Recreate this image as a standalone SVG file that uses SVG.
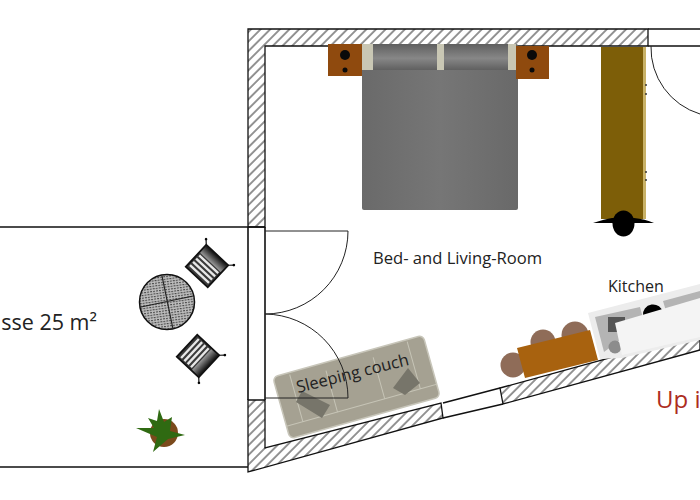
<svg xmlns="http://www.w3.org/2000/svg" width="700" height="500" viewBox="0 0 700 500">
<style>
.ln{fill:none;stroke:#111;stroke-width:1.6}
.thin{fill:none;stroke:#222;stroke-width:1}
.wall{fill:url(#hatch);stroke:#111;stroke-width:1.3}
.lab{font-family:"Open Sans","Noto Sans",sans-serif;fill:#222}
.nst{fill:#8f4a0e}
.cream{fill:#c9c7b4}
.pil{fill:url(#pillow)}
.lk{fill:#0a0a0a}
.seat{fill:#8f6c58}
.couchd{fill:#77756a}
.couchl{fill:none;stroke:#c6c4b6;stroke-width:1}
.leaf{fill:#2f6a12}
.leg{stroke:#111;stroke-width:1.2;fill:none}
</style>
<defs>
<pattern id="hatch" width="6.8" height="6.8" patternUnits="userSpaceOnUse" patternTransform="rotate(45)">
<rect width="6.8" height="6.8" fill="#fff"/><line x1="1" y1="0" x2="1" y2="6.8" stroke="#111" stroke-width="0.9"/>
</pattern>
<pattern id="dots" width="3" height="2.600" patternUnits="userSpaceOnUse" patternTransform="rotate(-8)">
<rect width="3" height="2.600" fill="#bdbdbd"/><rect width="2" height="1.100" fill="#4a4a4a"/>
</pattern>
<linearGradient id="pillow" x1="0" y1="0" x2="0" y2="1"><stop offset="0" stop-color="#5f5f5f"/><stop offset="0.55" stop-color="#878787"/><stop offset="1" stop-color="#606060"/></linearGradient>
<linearGradient id="bedg" x1="0" y1="0" x2="1" y2="0"><stop offset="0" stop-color="#6a6a6a"/><stop offset="0.5" stop-color="#767676"/><stop offset="1" stop-color="#696969"/></linearGradient>
<linearGradient id="back" x1="0" y1="0" x2="1" y2="0"><stop offset="0" stop-color="#999"/><stop offset="1" stop-color="#111"/></linearGradient>
<g id="chair">
<rect x="-15" y="-15" width="30" height="30" fill="#3a3a3a" stroke="#111" stroke-width="1.8"/>
<path d="M-11-13V13M-6.500-13V13M-2-13V13M2.500-13V13" stroke="#e8e8e8" stroke-width="2.400" fill="none"/>
<rect x="5" y="-14" width="9.500" height="28" fill="url(#back)"/>
<path d="M15-15l4-4M15 15l4 4" class="leg"/><circle cx="19" cy="-19" r="1.300"/><circle cx="19" cy="19" r="1.300"/>
</g>
</defs>
<rect width="700" height="500" fill="#fff"/>

<g id="connectors">
<path class="wall" d="M248 29H648V46H265V227H248Z"/>
<path class="wall" d="M248 400H265V448L441 403 443 418 248 472Z"/>
<path class="wall" d="M500 388 700 333V350L503 404Z"/>
<path class="ln" d="M648 29H700M648 46H700"/>
<path class="ln" d="M0 227H265M0 467H248M248 227V400M265 227V400"/>
<path class="ln" d="M443 403 500 388M443 418 503 404"/>
<path class="thin" d="M651 46A69 69 0 0 0 700 114"/>
</g>

<g id="bed">
<rect x="362" y="44" width="156" height="166" rx="2" fill="url(#bedg)"/>
<rect class="pil" x="373" y="44" width="64" height="26"/>
<rect class="pil" x="444" y="44" width="64" height="26"/>
<rect class="cream" x="362" y="44" width="11" height="26"/>
<rect class="cream" x="437" y="44" width="7" height="26"/>
<rect class="cream" x="508" y="44" width="8" height="26"/>
</g>
<g id="nightstand-left">
<rect class="nst" x="328" y="44" width="34" height="32"/>
<circle class="lk" cx="345" cy="55" r="5"/><circle class="lk" cx="345" cy="70" r="2.500"/>
</g>
<g id="nightstand-right">
<rect class="nst" x="516" y="46" width="33" height="33"/>
<circle class="lk" cx="532" cy="55" r="5"/><circle class="lk" cx="532" cy="70" r="2.500"/>
</g>
<g id="wardrobe">
<rect x="601" y="47" width="45" height="172" fill="#7d5e08"/>
<rect x="643" y="47" width="3" height="172" fill="#c9b267"/>
<path d="M646 85v.1M646 94v.1M646 172v.1M646 180v.1" stroke="#333" stroke-width="2" stroke-linecap="round"/>
<path d="M593 223Q605 219 612 218H634Q645 219 654 223Z" fill="#000"/>
<ellipse cx="623.500" cy="223.500" rx="11" ry="13" fill="#000"/>
</g>
<g id="label-room"><text class="lab" x="373" y="264" font-size="16.600">Bed- and Living-Room</text></g>
<g id="label-kitchen"><text class="lab" x="608" y="292" font-size="16">Kitchen</text></g>
<g id="label-terrace"><text class="lab" x="97" y="330" font-size="21.500" text-anchor="end">sse 25 m²</text></g>
<g id="label-up"><text x="656" y="408" font-size="24" font-family="'Open Sans','Noto Sans',sans-serif" fill="#ad2d1e">Up i</text></g>

<g id="table">
<circle cx="167" cy="302" r="27.500" fill="url(#dots)" stroke="#111" stroke-width="1.500"/>
<path d="M162 276 173 329M141 307 193 296" stroke="#222" stroke-width="1.200" fill="none"/>
</g>
<g id="chair-1"><use href="#chair" transform="translate(207 266) rotate(-47)"/></g>
<g id="chair-2"><use href="#chair" transform="translate(198 356) rotate(43)"/></g>
<g id="plant">
<circle cx="164" cy="433" r="14" fill="#7b4a1c"/>
<path class="leaf" d="M159 409 164 422 172 417 170 431 185 435 168 439 153 452 157 437 136 428 154 428 148 418 157 421Z"/>
</g>

<g id="couch">
<g transform="translate(356.500 387) rotate(-15.600)">
<rect x="-78" y="-32" width="156" height="64" rx="5" fill="#a5a192" stroke="#c8c6ba" stroke-width="1.500"/>
<path d="M-61-30V19M61-30V19M-78 19H78" class="couchl" stroke="#8a8778"/>
<path d="M-25-24V19M24-24V19" class="couchl"/>
</g>
<path class="couchd" d="M302 391 330 405 322 418 296 402Z"/>
<path class="couchd" d="M393 388 408 368 420 383 405 395Z"/>
</g>
<g id="door">
<path class="thin" d="M265 231H348A83 83 0 0 1 265 314A84 84 0 0 1 348 398H265"/>
</g>
<g id="label-couch"><text class="lab" x="0" y="0" font-size="16.500" transform="translate(298 393) rotate(-14.200)">Sleeping couch</text></g>

<g id="kitchen">
<path d="M588 313 700 284V340L622 358 600 359Z" fill="#ececec"/>
<path d="M595 317 640 307 644 322 604 352Z" fill="#b4b4b4"/>
<path d="M663 301 700 291V300L666 311Z" fill="#b4b4b4"/>
<path d="M643 316a10 10 0 0 1 20-3z" fill="#000"/>
<rect x="608" y="317" width="17" height="15" fill="#555"/>
<circle cx="615" cy="347" r="6.500" fill="#8c8c8c"/>
<path d="M615 323 700 298V337L622 355Z" fill="#f4f4f4"/>
</g>
<g id="dining">
<circle class="seat" cx="513" cy="365" r="12.500"/>
<circle class="seat" cx="543" cy="342" r="12.500"/>
<circle class="seat" cx="575" cy="335" r="13.500"/>
<path d="M517 348 590 330 598 360 525 378Z" fill="#a8620f"/>
</g>
</svg>
